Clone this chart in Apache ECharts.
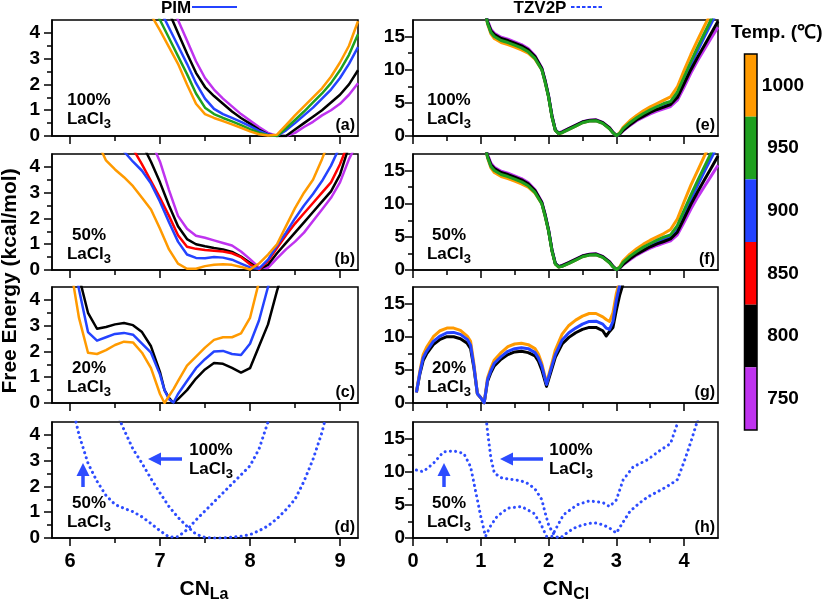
<!DOCTYPE html>
<html><head><meta charset="utf-8">
<script src="https://cdn.jsdelivr.net/npm/echarts@6/dist/echarts.min.js"></script>
<style>html,body{margin:0;padding:0;background:#fff}#c{width:827px;height:603px}</style>
</head><body><div id="c"></div>
<script>
// ---------- tick labels / categories ----------
const tempLabels = ['1000', '950', '900', '850', '800', '750'];
const xTicksLa = [6, 7, 8, 9];
const xMinorLa = [6.5, 7.5, 8.5];
const xTicksCl = [0, 1, 2, 3, 4];
const xMinorCl = [0.5, 1.5, 2.5, 3.5];
const yTicksL = [0, 1, 2, 3, 4];
const yMinorL = [0.5, 1.5, 2.5, 3.5];
const yTicksR = [0, 5, 10, 15];
const yMinorR = [2.5, 7.5, 12.5];

// ---------- panel (a): 100% LaCl3, PIM ----------
const xA = [6.9,7.0,7.1,7.2,7.3,7.4,7.5,7.6,7.7,7.8,7.9,8.0,8.1,8.2,8.3,8.4,8.5,8.6,8.7,8.8,8.9,9.0,9.1,9.2];
const a1000 = [4.7,4.1,3.45,2.8,2.0,1.25,0.85,0.7,0.58,0.45,0.32,0.18,0.07,0.02,0.05,0.42,0.8,1.15,1.5,1.85,2.3,2.85,3.5,4.45];
const a950 = [5.2,4.5,3.8,3.1,2.4,1.65,1.1,0.85,0.7,0.57,0.42,0.27,0.13,0.03,0.0,0.3,0.62,0.95,1.3,1.65,2.05,2.55,3.15,3.95];
const a900 = [5.6,4.9,4.2,3.5,2.8,2.05,1.45,1.05,0.85,0.7,0.55,0.38,0.2,0.06,0.0,0.22,0.5,0.8,1.1,1.45,1.8,2.25,2.8,3.45];
const a800 = [6.2,5.5,4.8,4.0,3.2,2.45,1.9,1.55,1.25,0.95,0.7,0.48,0.25,0.06,0.0,0.0,0.25,0.5,0.75,1.0,1.3,1.6,2.0,2.55];
const a750 = [6.9,6.1,5.3,4.5,3.7,2.9,2.25,1.8,1.45,1.15,0.85,0.6,0.35,0.12,0.0,0.0,0.12,0.35,0.55,0.8,1.0,1.25,1.6,2.05];

// ---------- panel (b): 50% LaCl3, PIM ----------
const xB = [6.3,6.4,6.5,6.6,6.7,6.8,6.9,7.0,7.1,7.2,7.3,7.4,7.5,7.6,7.7,7.8,7.9,8.0,8.1,8.2,8.3,8.4,8.5,8.6,8.7,8.8,8.9,9.0,9.1,9.2];
const b1000 = [5.0,4.25,3.9,3.6,3.25,2.8,2.35,1.6,0.8,0.25,0.05,0.05,0.15,0.2,0.22,0.2,0.12,0.02,0.25,0.6,1.0,1.7,2.4,3.0,3.5,4.3,5.2,6.0,7.0,8.0];
const b900 = [9.0,8.0,6.0,4.6,4.2,3.85,3.35,2.65,1.85,1.1,0.6,0.47,0.46,0.5,0.48,0.4,0.25,0.1,0.05,0.4,0.95,1.45,2.0,2.5,2.95,3.45,4.05,4.8,5.6,6.4];
const b850 = [9.0,8.0,7.0,5.8,4.7,4.1,3.45,2.8,2.1,1.35,0.9,0.82,0.78,0.75,0.72,0.65,0.5,0.22,0.02,0.35,0.85,1.35,1.8,2.2,2.6,3.0,3.4,4.1,5.0,5.8];
const b800 = [9.0,8.0,7.0,6.2,5.6,4.9,4.2,3.4,2.5,1.7,1.2,1.0,0.92,0.85,0.8,0.7,0.52,0.28,0.03,0.2,0.65,1.05,1.45,1.85,2.25,2.65,3.05,3.7,4.8,5.8];
const b750 = [9.0,8.5,8.0,7.2,6.5,5.8,5.0,4.2,3.1,2.1,1.6,1.33,1.25,1.15,1.05,0.95,0.72,0.42,0.1,0.08,0.45,0.8,1.1,1.45,1.9,2.35,2.8,3.4,4.3,5.0];

// ---------- panel (c): 20% LaCl3, PIM ----------
const xC = [6.0,6.1,6.2,6.3,6.4,6.5,6.6,6.7,6.8,6.9,7.0,7.05,7.1,7.15,7.2,7.3,7.4,7.5,7.6,7.7,7.8,7.9,8.0,8.1,8.2,8.3,8.4];
const c1000 = [5.4,3.3,1.95,1.9,2.05,2.25,2.38,2.35,1.95,1.35,0.35,0.0,0.27,0.54,0.85,1.45,1.8,2.15,2.45,2.55,2.55,2.7,3.3,4.7,6.0,7.0,8.0];
const c900 = [6.5,4.4,2.75,2.42,2.55,2.68,2.72,2.65,2.3,1.95,1.1,0.5,0.15,0.02,0.35,0.85,1.35,1.7,2.0,2.02,1.9,1.86,2.3,3.2,4.5,6.0,7.0];
const c800 = [7.0,4.9,3.5,2.88,2.95,3.05,3.1,3.02,2.75,2.2,1.2,0.5,0.2,0.0,0.15,0.5,0.95,1.3,1.55,1.52,1.36,1.18,1.35,2.2,3.05,4.35,5.5];

// ---------- panel (d): TZV2P ----------
const xD50 = [6.0,6.1,6.2,6.3,6.4,6.5,6.6,6.7,6.8,6.9,7.0,7.1,7.2,7.3,7.4,7.5,7.6,7.7,7.8,7.9,8.0,8.1,8.2];
const d50 = [5.5,4.0,2.9,2.2,1.65,1.3,1.15,1.02,0.82,0.56,0.28,0.04,0.05,0.32,0.7,1.05,1.4,1.75,2.1,2.45,2.8,3.45,4.5];
const xD100 = [6.5,6.6,6.7,6.8,6.9,7.0,7.1,7.2,7.3,7.4,7.5,7.6,7.7,7.8,7.9,8.0,8.1,8.2,8.3,8.4,8.5,8.6,8.7,8.8,8.9];
const d100 = [5.0,4.2,3.45,2.9,2.3,1.75,1.22,0.8,0.45,0.15,0.02,0.0,0.0,0.03,0.07,0.13,0.28,0.47,0.75,1.1,1.5,2.2,3.05,4.1,5.5];

// ---------- panel (e): 100% LaCl3, PIM ----------
const xE = [1.05,1.08,1.1,1.15,1.2,1.3,1.4,1.5,1.6,1.7,1.8,1.9,1.95,2.0,2.05,2.1,2.15,2.2,2.3,2.4,2.5,2.6,2.7,2.8,2.9,2.95,3.0,3.05,3.1,3.2,3.3,3.4,3.5,3.6,3.7,3.8,3.9,4.0,4.1,4.2,4.3,4.4,4.5];
const e1000 = [19.4,17.9,16.9,15.4,14.7,14.1,13.8,13.4,13.0,12.5,11.6,10.0,8.1,5.9,2.9,0.85,0.35,0.5,1.0,1.5,2.0,2.25,2.3,1.9,1.1,0.5,0.05,0.5,1.3,2.3,3.1,3.8,4.4,4.9,5.4,5.9,7.4,9.9,12.3,14.5,16.6,18.6,20.6];
const e950 = [19.5,18.0,17.0,15.6,15.0,14.4,14.1,13.7,13.3,12.7,11.7,10.0,8.1,5.9,2.9,0.85,0.35,0.5,1.0,1.5,2.0,2.25,2.3,1.9,1.1,0.5,0.05,0.4,1.1,2.0,2.75,3.4,3.95,4.45,4.9,5.2,6.6,8.9,11.2,13.4,15.5,17.6,19.6];
const e900 = [19.6,18.1,17.1,15.7,15.1,14.5,14.2,13.8,13.4,12.8,11.8,10.1,8.2,6.0,3.0,0.9,0.4,0.55,1.05,1.55,2.05,2.3,2.35,1.95,1.15,0.5,0.05,0.35,0.95,1.85,2.6,3.2,3.75,4.2,4.6,5.0,6.2,8.5,10.8,12.9,15.0,17.0,19.0];
const e800 = [19.7,18.2,17.2,15.9,15.3,14.7,14.4,14.0,13.6,13.0,12.0,10.2,8.3,6.0,3.0,0.9,0.4,0.6,1.1,1.6,2.1,2.35,2.4,2.0,1.2,0.55,0.05,0.3,0.85,1.7,2.45,3.0,3.55,4.0,4.35,4.75,5.8,7.9,10.0,11.9,13.7,15.5,17.3];
const e750 = [19.8,18.4,17.4,16.1,15.5,14.9,14.6,14.2,13.8,13.2,12.1,10.3,8.4,6.1,3.1,0.95,0.45,0.65,1.15,1.65,2.15,2.4,2.45,2.05,1.25,0.6,0.05,0.3,0.8,1.6,2.3,2.85,3.35,3.75,4.1,4.45,5.4,7.4,9.5,11.4,13.1,14.8,16.4];

// ---------- panel (f): 50% LaCl3, PIM ----------
const xF = [1.05,1.08,1.1,1.15,1.2,1.3,1.4,1.5,1.6,1.7,1.8,1.9,1.95,2.0,2.05,2.1,2.15,2.2,2.3,2.4,2.5,2.6,2.7,2.8,2.9,2.95,3.0,3.05,3.1,3.2,3.3,3.4,3.5,3.6,3.7,3.8,3.9,4.0,4.1,4.2,4.3,4.4,4.5];
const f1000 = [19.4,17.9,16.9,15.4,14.7,14.1,13.8,13.4,13.0,12.5,11.6,10.0,8.1,5.9,2.9,0.9,0.45,0.55,1.0,1.5,2.0,2.25,2.3,1.9,1.1,0.5,0.05,0.5,1.4,2.4,3.2,3.9,4.5,5.0,5.5,6.1,7.7,10.3,12.8,15.0,17.2,19.3,21.3];
const f950 = [19.5,18.0,17.0,15.6,15.0,14.4,14.1,13.7,13.3,12.7,11.7,10.0,8.1,5.9,2.9,0.9,0.45,0.55,1.0,1.5,2.0,2.25,2.3,1.9,1.1,0.5,0.05,0.4,1.15,2.05,2.8,3.45,4.0,4.5,4.95,5.3,6.7,9.0,11.3,13.5,15.6,17.7,19.7];
const f900 = [19.6,18.1,17.1,15.7,15.1,14.5,14.2,13.8,13.4,12.8,11.8,10.1,8.2,6.0,3.0,0.95,0.5,0.6,1.05,1.55,2.05,2.3,2.35,1.95,1.15,0.5,0.05,0.35,0.95,1.85,2.6,3.2,3.75,4.2,4.6,5.0,6.1,8.4,10.7,12.8,14.9,16.9,18.9];
const f800 = [19.7,18.2,17.2,15.9,15.3,14.7,14.4,14.0,13.6,13.0,12.0,10.2,8.3,6.0,3.0,0.95,0.5,0.65,1.1,1.6,2.1,2.35,2.4,2.0,1.2,0.55,0.05,0.3,0.85,1.7,2.4,2.95,3.5,3.95,4.3,4.7,5.7,7.8,9.9,11.8,13.6,15.4,17.2];
const f750 = [19.8,18.4,17.4,16.1,15.5,14.9,14.6,14.2,13.8,13.2,12.1,10.3,8.4,6.1,3.1,1.0,0.55,0.7,1.15,1.65,2.15,2.4,2.45,2.05,1.25,0.6,0.05,0.3,0.8,1.55,2.25,2.8,3.3,3.7,4.05,4.4,5.3,7.2,9.2,11.0,12.6,14.2,15.8];

// ---------- panel (g): 20% LaCl3, PIM ----------
const xG = [0.05,0.1,0.15,0.2,0.3,0.4,0.5,0.6,0.7,0.8,0.85,0.9,0.95,1.0,1.05,1.1,1.15,1.2,1.3,1.4,1.5,1.6,1.7,1.8,1.85,1.9,1.97,2.05,2.1,2.2,2.3,2.4,2.5,2.6,2.7,2.8,2.85,2.9,2.95,3.0,3.05,3.1];
const g1000 = [1.6,4.8,7.3,8.4,10.0,10.9,11.3,11.3,10.95,10.1,9.3,5.8,1.4,0.8,0.0,3.8,5.3,6.5,7.6,8.5,8.9,9.0,8.8,8.2,7.4,6.0,3.0,6.0,8.0,10.4,11.7,12.5,13.1,13.5,13.5,13.0,12.6,12.3,13.6,16.5,18.5,19.5];
const g900 = [1.6,4.5,6.8,7.8,9.3,10.1,10.6,10.65,10.35,9.6,8.7,5.5,1.4,0.8,0.0,3.5,4.9,6.0,7.0,7.8,8.2,8.35,8.2,7.6,6.8,5.6,2.8,5.6,7.3,9.5,10.6,11.3,11.9,12.3,12.35,11.9,11.3,11.1,12.3,15.5,17.8,19.0];
const g800 = [1.6,4.3,6.4,7.4,8.8,9.6,10.0,10.0,9.7,9.0,8.2,5.2,1.4,0.8,0.0,3.3,4.6,5.6,6.6,7.3,7.7,7.8,7.6,7.1,6.3,5.0,2.5,5.2,6.9,8.9,9.9,10.6,11.1,11.4,11.4,10.9,10.1,10.8,11.4,14.0,16.3,18.0];

// ---------- panel (h): TZV2P ----------
const xH50 = [0.05,0.15,0.3,0.45,0.6,0.75,0.85,0.92,1.0,1.07,1.14,1.24,1.4,1.6,1.78,1.88,1.97,2.05,2.1,2.22,2.42,2.6,2.8,2.9,3.0,3.1,3.25,3.45,3.65,3.8,3.9];
const h50 = [10.25,10.0,11.25,13.0,13.15,12.75,10.75,7.25,3.25,0.25,1.75,3.25,4.5,4.75,3.75,2.25,0.25,0.25,1.25,3.5,5.0,5.6,5.35,4.75,5.75,8.75,10.75,11.75,13.25,14.25,17.25];
const xH100 = [1.08,1.1,1.15,1.2,1.3,1.4,1.5,1.6,1.7,1.8,1.9,1.95,2.0,2.05,2.1,2.15,2.2,2.3,2.4,2.5,2.6,2.7,2.8,2.9,3.0,3.05,3.1,3.2,3.3,3.4,3.5,3.6,3.7,3.8,3.9,4.0,4.1,4.2,4.3];
const h100 = [18.0,16.0,12.0,9.8,9.1,8.9,8.8,8.6,8.2,7.4,5.8,3.8,2.0,1.0,0.3,0.0,0.2,1.0,1.6,1.95,2.2,2.25,2.0,1.5,0.75,1.6,2.4,4.0,4.9,5.75,6.4,6.95,7.5,8.1,8.8,11.5,14.5,17.8,20.0];

// ---------- styling / layout ----------
const FONT = '"Liberation Sans", Arial, Helvetica, sans-serif';
const COL = {1000:'#ff9a00', 950:'#1fa01f', 900:'#2443ff', 850:'#ff0000', 800:'#000000', 750:'#bf33ef'};
const DOT = '#2d4cff';
const ROWS = [20, 154, 287, 422];
const H = 116;
const COLS = [{left:52, width:306}, {left:413, width:305}];

const grids = [], xAxes = [], yAxes = [], series = [];
for (let c = 0; c < 2; c++) {
  for (let r = 0; r < 4; r++) {
    const gi = c * 4 + r;
    grids.push({left: COLS[c].left, top: ROWS[r], width: COLS[c].width, height: H,
      show: true, borderColor: '#000', borderWidth: 1.5, backgroundColor: 'transparent'});
    const xmin = c ? 0 : 5.8, xmax = c ? 4.5 : 9.2;
    const ymax = c ? 17.5 : 4.5;
    const xt = c ? xTicksCl : xTicksLa, xm = c ? xMinorCl : xMinorLa;
    const yt = c ? yTicksR : yTicksL, ym = c ? yMinorR : yMinorL;
    const tickLS = {color:'#000', width:1.5};
    xAxes.push({type:'value', gridIndex: gi, min: xmin, max: xmax, position:'bottom',
      axisLine:{show:true, onZero:false, lineStyle: tickLS},
      axisTick:{show:true, inside:false, length:8, customValues: xt, lineStyle: tickLS},
      axisLabel:{show: r === 3, customValues: xt, fontSize:20, fontWeight:'bold', color:'#000', fontFamily: FONT, margin: 13},
      splitLine:{show:false}});
    xAxes.push({type:'value', gridIndex: gi, min: xmin, max: xmax, position:'bottom',
      axisLine:{show:false, onZero:false},
      axisTick:{show:true, inside:false, length:5, customValues: xm, lineStyle: tickLS},
      axisLabel:{show:false}, splitLine:{show:false}});
    yAxes.push({type:'value', gridIndex: gi, min: 0, max: ymax, position:'left',
      axisLine:{show:true, onZero:false, lineStyle: tickLS},
      axisTick:{show:true, inside:false, length:8, customValues: yt, lineStyle: tickLS},
      axisLabel:{show:true, customValues: yt, fontSize:19, fontWeight:'bold', color:'#000', fontFamily: FONT, margin: c ? 8 : 12},
      splitLine:{show:false}});
    yAxes.push({type:'value', gridIndex: gi, min: 0, max: ymax, position:'left',
      axisLine:{show:false, onZero:false},
      axisTick:{show:true, inside:false, length:5, customValues: ym, lineStyle: tickLS},
      axisLabel:{show:false}, splitLine:{show:false}});
  }
}

function addLine(gi, xs, ys, color, dotted, width) {
  series.push({type:'line', xAxisIndex: gi * 2, yAxisIndex: gi * 2,
    data: xs.map((x, i) => [x, ys[i]]), showSymbol:false, symbol:'none', clip:true,
    silent:true, animation:false,
    lineStyle: dotted ? {color, width:3, type:[0.1, 5.2], cap:'round'} : {color, width: width, join:'round'}});
}
// left column (PIM)
[[750,a750],[800,a800],[900,a900],[950,a950],[1000,a1000]].forEach(([t, d]) => addLine(0, xA, d, COL[t], false, 2.5));
[[750,b750],[800,b800],[850,b850],[900,b900],[1000,b1000]].forEach(([t, d]) => addLine(1, xB, d, COL[t], false, 2.5));
[[800,c800],[900,c900],[1000,c1000]].forEach(([t, d]) => addLine(2, xC, d, COL[t], false, 2.5));
addLine(3, xD50, d50, DOT, true);
addLine(3, xD100, d100, DOT, true);
// right column
[[750,e750],[1000,e1000],[900,e900],[800,e800],[950,e950]].forEach(([t, d]) => addLine(4, xE, d, COL[t], false, 3));
[[750,f750],[1000,f1000],[900,f900],[800,f800],[950,f950]].forEach(([t, d]) => addLine(5, xF, d, COL[t], false, 3));
[[800,g800],[1000,g1000],[900,g900]].forEach(([t, d]) => addLine(6, xG, d, COL[t], false, 3));
addLine(7, xH50, h50, DOT, true);
addLine(7, xH100, h100, DOT, true);

// ---------- graphic annotations ----------
const graphic = [];
function txt(x, y, text, size, align, extra) {
  graphic.push(Object.assign({type:'text', silent:true, style:{x, y, text, fill:'#000',
    font: 'bold ' + size + 'px ' + FONT, align: align || 'center', verticalAlign:'middle'}}, extra || {}));
}
const richLa = {b:{fontSize:17, fontWeight:'bold', fontFamily:FONT, fill:'#000', lineHeight:19},
                s:{fontSize:13, fontWeight:'bold', fontFamily:FONT, fill:'#000', lineHeight:19, padding:[10,0,0,0]}};
function conc(x, yTop, pct) {
  graphic.push({type:'text', silent:true, style:{x, y:yTop, text:'{b|' + pct + '}\n{b|LaCl}{s|3}', rich: richLa,
    align:'center', verticalAlign:'top'}});
}
// concentration labels
conc(89, 91, '100%'); conc(449, 91, '100%');
conc(89, 226, '50%'); conc(449, 226, '50%');
conc(89, 359, '20%'); conc(449, 359, '20%');
conc(89, 494, '50%'); conc(449, 494, '50%');
conc(211, 441, '100%'); conc(571, 441, '100%');
// panel letters
['(a)','(b)','(c)','(d)'].forEach((s, r) => txt(355, ROWS[r] + H - 10, s, 16, 'right'));
['(e)','(f)','(g)','(h)'].forEach((s, r) => txt(715, ROWS[r] + H - 10, s, 16, 'right'));
// arrows
function arrowLeft(xTail, xTip, y) {
  graphic.push({type:'line', silent:true, shape:{x1:xTail, y1:y, x2:xTip + 10, y2:y}, style:{stroke:DOT, lineWidth:3.5}});
  graphic.push({type:'polygon', silent:true, shape:{points:[[xTip, y], [xTip + 13, y - 6.5], [xTip + 13, y + 6.5]]}, style:{fill:DOT}});
}
function arrowUp(x, yTail, yTip) {
  graphic.push({type:'line', silent:true, shape:{x1:x, y1:yTail, x2:x, y2:yTip + 10}, style:{stroke:DOT, lineWidth:3.5}});
  graphic.push({type:'polygon', silent:true, shape:{points:[[x, yTip], [x - 6.5, yTip + 13], [x + 6.5, yTip + 13]]}, style:{fill:DOT}});
}
arrowLeft(182, 148, 459); arrowUp(83, 487, 463);
arrowLeft(543, 500, 459); arrowUp(444, 487, 463);
// method legend
txt(176, 8, 'PIM', 17, 'center');
graphic.push({type:'line', silent:true, shape:{x1:192, y1:7, x2:237, y2:7}, style:{stroke:'#2443ff', lineWidth:2.2}});
txt(540, 8, 'TZV2P', 17, 'center');
graphic.push({type:'line', silent:true, shape:{x1:571, y1:7, x2:603, y2:7}, style:{stroke:'#2443ff', lineWidth:2, lineDash:[3.5, 2]}});
// axis titles
graphic.push({type:'text', silent:true, x:10, y:281, rotation:Math.PI / 2,
  style:{x:0, y:0, text:'Free Energy (kcal/mol)', fill:'#000', font:'bold 21px ' + FONT, align:'center', verticalAlign:'middle'}});
const richCN = {b:{fontSize:21, fontWeight:'bold', fontFamily:FONT, fill:'#000', lineHeight:26},
                s:{fontSize:16, fontWeight:'bold', fontFamily:FONT, fill:'#000', lineHeight:26, padding:[12,0,0,0]}};
graphic.push({type:'text', silent:true, style:{x:204, y:589, text:'{b|CN}{s|La}', rich:richCN, align:'center', verticalAlign:'middle'}});
graphic.push({type:'text', silent:true, style:{x:566, y:589, text:'{b|CN}{s|Cl}', rich:richCN, align:'center', verticalAlign:'middle'}});
// colour bar
txt(731, 33, 'Temp. (\u2103)', 19, 'left');
const barTop = 54, barH = 376, segH = barH / tempLabels.length;
tempLabels.forEach((t, i) => {
  graphic.push({type:'rect', silent:true, shape:{x:744.5, y:barTop + i * segH, width:12.5, height:segH}, style:{fill:COL[t]}});
  txt(783, barTop + (i + 0.5) * segH, t, 19, 'center');
});
graphic.push({type:'rect', silent:true, shape:{x:744.5, y:barTop, width:12.5, height:barH}, style:{fill:'none', stroke:'#000', lineWidth:1.5}});

const chart = echarts.init(document.getElementById('c'), null, {renderer:'canvas'});
chart.setOption({animation:false, textStyle:{fontFamily:FONT},
  grid: grids, xAxis: xAxes, yAxis: yAxes, series, graphic});
</script></body></html>
